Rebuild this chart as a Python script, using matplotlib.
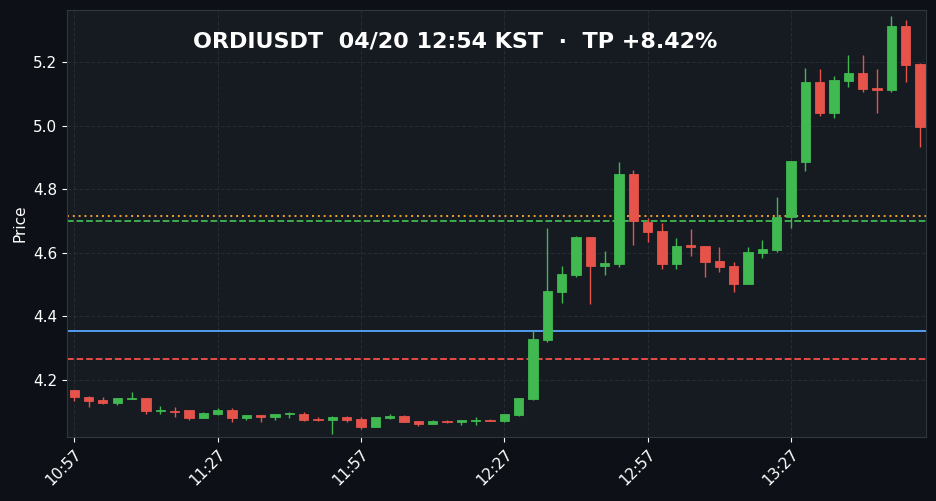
import numpy as np
import matplotlib
matplotlib.use("Agg")
import matplotlib.pyplot as plt

# 3분봉 OHLC (10:57 ~ 13:54)
opens = [4.169, 4.147, 4.137, 4.129, 4.140, 4.143, 4.101, 4.103, 4.106, 4.079,
         4.094, 4.106, 4.079, 4.090, 4.083, 4.093, 4.093, 4.078, 4.075, 4.084,
         4.077, 4.053, 4.081, 4.087, 4.071, 4.063, 4.072, 4.069, 4.071, 4.075,
         4.071, 4.091, 4.140, 4.327, 4.478, 4.531, 4.649, 4.560, 4.566, 4.848,
         4.698, 4.669, 4.566, 4.624, 4.620, 4.574, 4.558, 4.503, 4.600, 4.610,
         4.712, 4.887, 5.137, 5.041, 5.141, 5.165, 5.118, 5.112, 5.313, 5.194]
highs = [4.169, 4.150, 4.145, 4.143, 4.161, 4.143, 4.119, 4.114, 4.106, 4.098,
         4.113, 4.111, 4.090, 4.090, 4.093, 4.099, 4.099, 4.085, 4.086, 4.086,
         4.082, 4.084, 4.092, 4.089, 4.071, 4.075, 4.073, 4.074, 4.083, 4.076,
         4.093, 4.143, 4.356, 4.679, 4.560, 4.653, 4.649, 4.605, 4.887, 4.862,
         4.711, 4.695, 4.646, 4.674, 4.620, 4.617, 4.572, 4.617, 4.639, 4.776,
         4.889, 5.182, 5.177, 5.156, 5.224, 5.224, 5.180, 5.346, 5.334, 5.196]
lows = [4.134, 4.114, 4.124, 4.120, 4.140, 4.092, 4.092, 4.085, 4.073, 4.079,
        4.090, 4.069, 4.073, 4.069, 4.074, 4.080, 4.070, 4.072, 4.029, 4.067,
        4.046, 4.053, 4.076, 4.069, 4.054, 4.061, 4.066, 4.058, 4.058, 4.070,
        4.069, 4.088, 4.138, 4.318, 4.441, 4.523, 4.438, 4.529, 4.557, 4.624,
        4.633, 4.549, 4.549, 4.589, 4.524, 4.539, 4.476, 4.503, 4.583, 4.603,
        4.677, 4.859, 5.032, 5.023, 5.123, 5.105, 5.039, 5.107, 5.136, 4.933]
closes = [4.145, 4.135, 4.129, 4.143, 4.143, 4.101, 4.106, 4.100, 4.079, 4.096,
          4.106, 4.079, 4.090, 4.083, 4.093, 4.096, 4.075, 4.075, 4.084, 4.074,
          4.053, 4.084, 4.087, 4.069, 4.063, 4.071, 4.068, 4.074, 4.074, 4.071,
          4.093, 4.143, 4.328, 4.480, 4.533, 4.649, 4.560, 4.568, 4.848, 4.700,
          4.666, 4.566, 4.623, 4.618, 4.572, 4.556, 4.503, 4.602, 4.612, 4.712,
          4.889, 5.137, 5.041, 5.143, 5.165, 5.116, 5.113, 5.313, 5.192, 4.997]

tick_pos = [0, 10, 20, 30, 40, 50]
tick_labels = ["10:57", "11:27", "11:57", "12:27", "12:57", "13:27"]

entry = 4.354
stop = 4.266
tp = 4.717
target2 = 4.700

title = "ORDIUSDT  04/20 12:54 KST  ·  TP +8.42%"

# 색상
BG = "#0d1117"
AX_BG = "#161b22"
UP = "#3fb950"
DOWN = "#e5534b"

fig = plt.figure(figsize=(9.37, 5.01), dpi=100, facecolor=BG)
ax = fig.add_axes([0.0715, 0.128, 0.9165, 0.852])
ax.set_facecolor(AX_BG)

x = np.arange(len(opens))
o = np.array(opens)
h = np.array(highs)
l = np.array(lows)
c = np.array(closes)
up = c >= o
cols = np.where(up, UP, DOWN)

ax.vlines(x, l, h, colors=cols, linewidth=1.0, zorder=3)
body_low = np.minimum(o, c)
body_h = np.maximum(np.abs(c - o), 0.003)
ax.bar(x, body_h, bottom=body_low, width=0.65, color=cols, edgecolor=cols,
       linewidth=0.6, zorder=4)

ax.axhline(tp, color="#f0a030", linestyle=(0, (1, 2)), linewidth=1.4, zorder=2)
ax.axhline(target2, color=UP, linestyle="--", linewidth=1.3, zorder=2)
ax.axhline(entry, color="#58a6ff", linestyle="-", linewidth=1.3, zorder=2)
ax.axhline(stop, color="#f85149", linestyle="--", linewidth=1.3, zorder=2)

ax.set_xlim(-0.5, 59.4)
ax.set_ylim(4.021, 5.364)
ax.set_yticks([4.2, 4.4, 4.6, 4.8, 5.0, 5.2])
ax.set_xticks(tick_pos)
ax.set_xticklabels(tick_labels, rotation=45, ha="right", rotation_mode="anchor")

ax.grid(True, color="#2d333b", linestyle="--", linewidth=0.8, alpha=0.7)
ax.set_axisbelow(True)
for s in ax.spines.values():
    s.set_color("#30363d")
ax.tick_params(colors="white", labelsize=11)
ax.set_ylabel("Price", color="white", fontsize=11)

fig.text(0.486, 0.918, title, ha="center", va="center",
        color="white", fontsize=16, fontweight="bold")

fig.savefig("out.png", dpi=100, facecolor=BG)
